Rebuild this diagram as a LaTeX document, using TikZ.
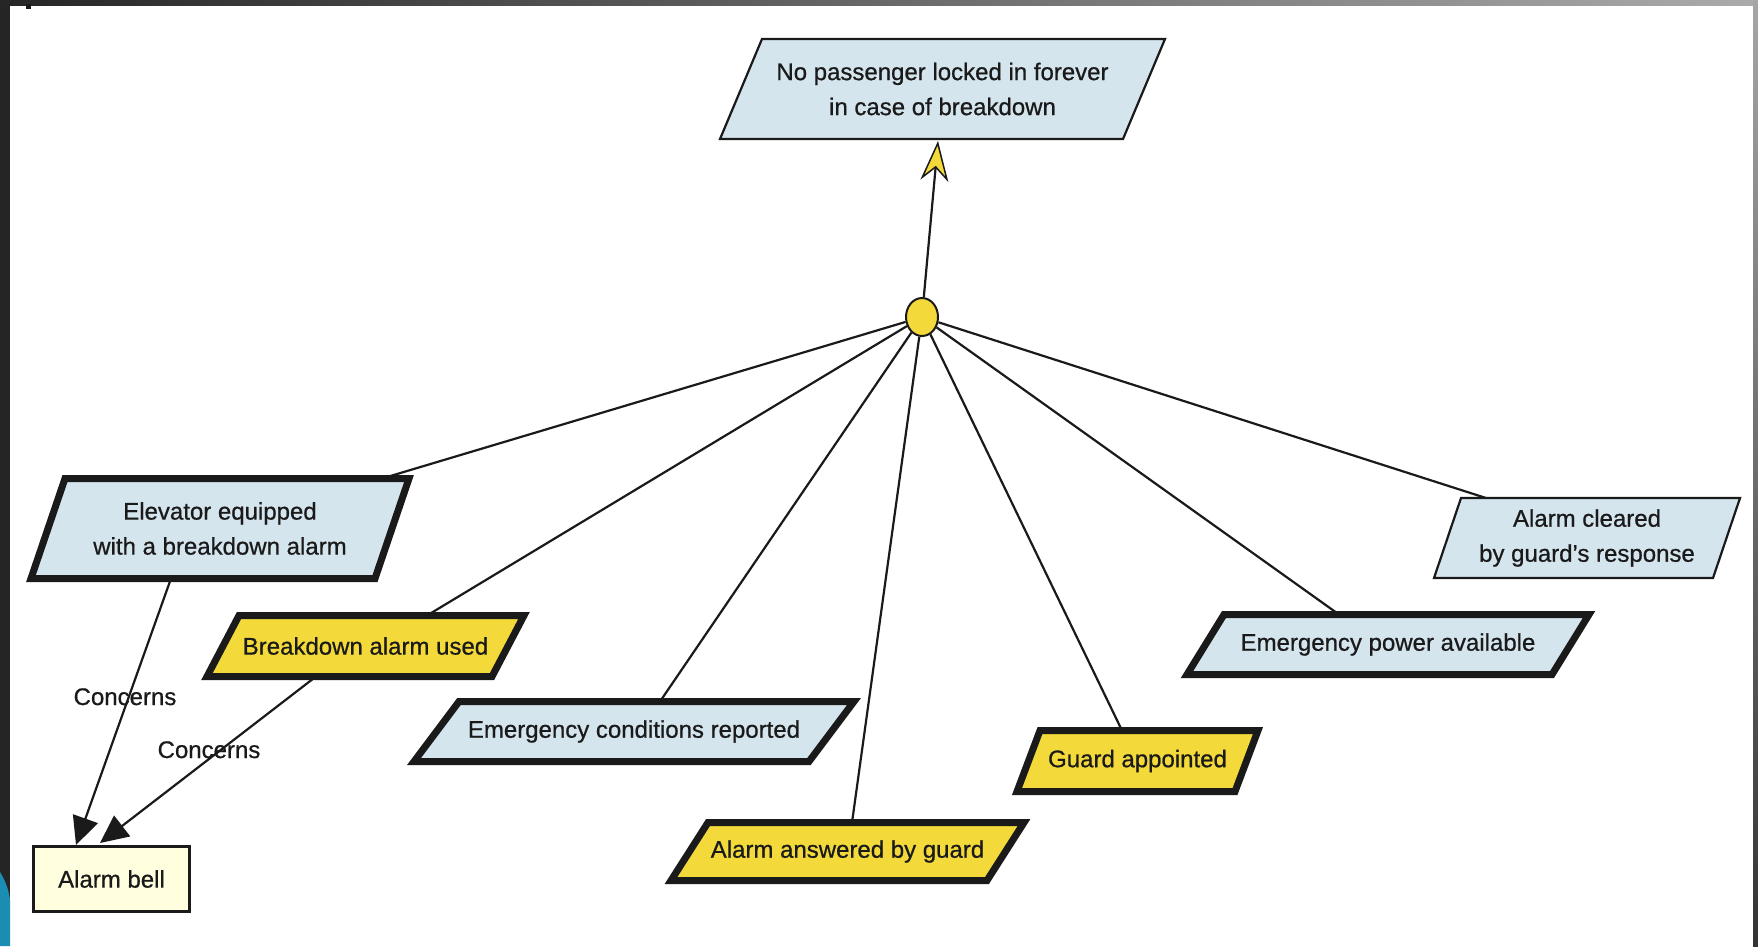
\documentclass[tikz,border=0pt]{standalone}
\usepackage{fontspec}
\setmainfont{Liberation Sans}[FakeBold=0.7]
\usetikzlibrary{arrows.meta,shapes.geometric}

\definecolor{goalblue}{HTML}{D5E5EE}
\definecolor{reqyellow}{HTML}{F3DA3A}
\definecolor{agentfill}{HTML}{FFFFDF}
\definecolor{ink}{HTML}{1A1A1A}
\definecolor{swoosh}{HTML}{1B8DB3}

\tikzset{
  boxtext/.style={font=\fontsize{24}{35}\selectfont, text=ink, align=center, inner sep=0pt},
  softgoal/.style={draw=ink, line width=2.2pt, fill=goalblue, line join=miter},
  goalbox/.style={draw=ink, line width=7pt, fill=goalblue, line join=miter},
  reqbox/.style={draw=ink, line width=7pt, fill=reqyellow, line join=miter},
  agentbox/.style={draw=ink, line width=3pt, fill=agentfill, minimum width=156pt, minimum height=65pt, inner sep=0pt, font=\fontsize{24}{28}\selectfont, text=ink},
  refnode/.style={ellipse, draw=ink, line width=2pt, fill=reqyellow, minimum width=32pt, minimum height=38pt, inner sep=0pt},
  link/.style={draw=ink, line width=2.2pt},
  concern/.style={link, -{Triangle[length=28pt,width=26pt]}},
  lbl/.style={font=\fontsize{24}{28}\selectfont, text=ink, inner sep=0pt, anchor=base},
}

% #1 name, #2 style, #3 top y, #4 bottom y, #5 top-left x, #6 top-right x, #7 slant, #8 text
\newcommand\pgram[8]{%
  \draw[#2] (#5,#3) -- (#6,#3) -- ({#6-#7},#4) -- ({#5-#7},#4) -- cycle;
  \node[boxtext] (#1) at ({(#5+#6-#7)/2},{(#3+#4)/2}) {#8};
}

\begin{document}
\begin{tikzpicture}[x=1pt,y=-1pt]
  \useasboundingbox (0,0) rectangle (1758,946);
  % slide frame
  \fill[white] (0,0) rectangle (1758,946);
  \fill[ink!95] (0,0) rectangle (10,946);
  \shade[left color=ink!95, right color=black!33] (0,0) rectangle (1758,5);
  \shade[top color=black!35, bottom color=black!80] (1753,0) rectangle (1758,946);
  \fill[swoosh] (0,872) .. controls (5,880) and (9,890) .. (10,900) -- (10,946) -- (0,946) -- cycle;
  \fill[ink] (26,4) rectangle (31,9);

  % attachment points
  \coordinate (goal-in) at (938,141);
  \coordinate (elev-in) at (382,478.5);
  \coordinate (bau-in) at (427,615.5);
  \coordinate (ecr-in) at (660,701.5);
  \coordinate (aabg-in) at (852,822.5);
  \coordinate (ga-in) at (1122,730.5);
  \coordinate (epa-in) at (1339,614.5);
  \coordinate (acgr-in) at (1486,498);
  \coordinate (elev-out) at (171,578.5);
  \coordinate (bau-out) at (316,676.5);

  % refinement node
  \node[refnode] (ref) at (922,317) {};

  % refinement links
  \draw[link] (ref) -- (elev-in);
  \draw[link] (ref) -- (bau-in);
  \draw[link] (ref) -- (ecr-in);
  \draw[link] (ref) -- (aabg-in);
  \draw[link] (ref) -- (ga-in);
  \draw[link] (ref) -- (epa-in);
  \draw[link] (ref) -- (acgr-in);
  \draw[link, -{Stealth[length=40pt,width=28pt,inset=13pt,fill=reqyellow,line width=1.5pt]}] (ref) -- (goal-in);

  % agent
  \node[agentbox] (bell) at (111.5,879) {Alarm bell};
  \coordinate (bell-in1) at (76,845);
  \coordinate (bell-in2) at (100,843);

  % concerns links
  \draw[concern] (elev-out) -- (bell-in1);
  \draw[concern] (bau-out) -- (bell-in2);
  \node[lbl] (c1) at (125,705) {Concerns};
  \node[lbl] (c2) at (209,758) {Concerns};

  % goals and requirements
  \pgram{goal}{softgoal}{39}{139}{762}{1165}{42}{No passenger locked in forever\\in case of breakdown}
  \pgram{elev}{goalbox}{478.5}{578.5}{65}{409}{34}{Elevator equipped\\with a breakdown alarm}
  \pgram{bau}{reqbox}{615.5}{676.5}{239}{524}{32}{Breakdown alarm used}
  \pgram{ecr}{goalbox}{701.5}{761.5}{459}{854}{45}{Emergency conditions reported}
  \pgram{aabg}{reqbox}{822.5}{880.5}{708}{1024}{37}{Alarm answered by guard}
  \pgram{ga}{reqbox}{730.5}{791.5}{1040}{1258}{23}{Guard appointed}
  \pgram{epa}{goalbox}{614.5}{674.5}{1224}{1589}{37}{Emergency power available}
  \pgram{acgr}{softgoal}{498}{578}{1461}{1740}{27}{Alarm cleared\\by guard's response}
\end{tikzpicture}
\end{document}
